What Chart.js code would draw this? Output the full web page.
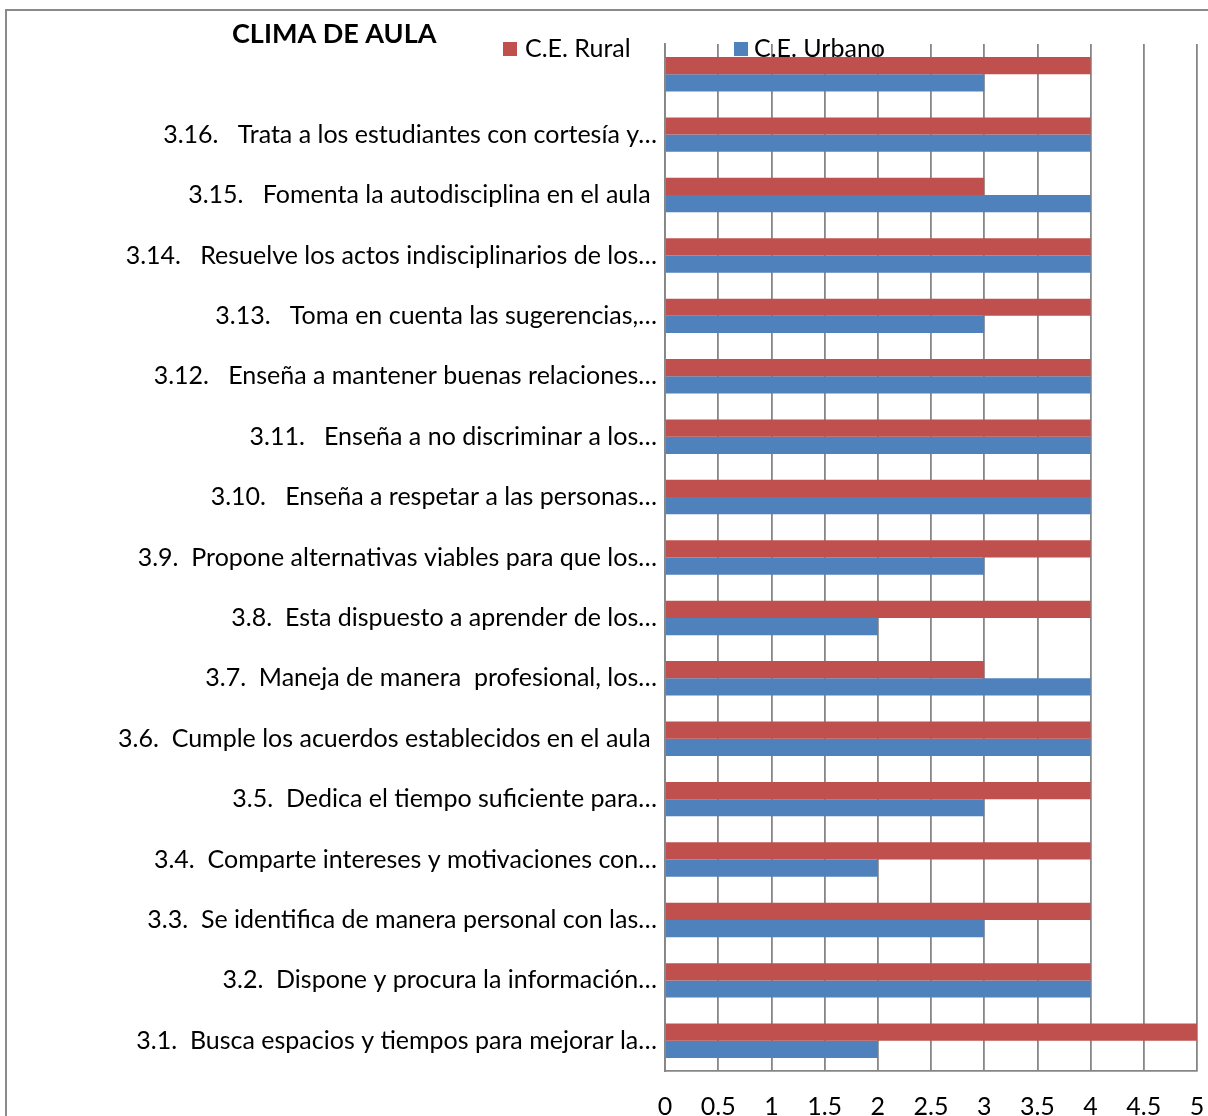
<!DOCTYPE html>
<html><head><meta charset="utf-8">
<script src="https://cdn.jsdelivr.net/npm/chart.js@4/dist/chart.umd.min.js"></script>
<style>html,body{margin:0;padding:0;background:#fff;overflow:hidden}</style>
</head>
<body>
<canvas id="c" width="1208" height="1116"></canvas>
<script>
const chartTitle = 'CLIMA DE AULA';
const categories = [
  '',
  '3.16.   Trata a los estudiantes con cortesía y…',
  '3.15.   Fomenta la autodisciplina en el aula ',
  '3.14.   Resuelve los actos indisciplinarios de los…',
  '3.13.   Toma en cuenta las sugerencias,…',
  '3.12.   Enseña a mantener buenas relaciones…',
  '3.11.   Enseña a no discriminar a los…',
  '3.10.   Enseña a respetar a las personas…',
  '3.9.  Propone alternativas viables para que los…',
  '3.8.  Esta dispuesto a aprender de los…',
  '3.7.  Maneja de manera  profesional, los…',
  '3.6.  Cumple los acuerdos establecidos en el aula ',
  '3.5.  Dedica el tiempo suficiente para…',
  '3.4.  Comparte intereses y motivaciones con…',
  '3.3.  Se identifica de manera personal con las…',
  '3.2.  Dispone y procura la información…',
  '3.1.  Busca espacios y tiempos para mejorar la…'
];
const seriesNames = ['C.E. Rural', 'C.E. Urbano'];
const rural  = [4, 4, 3, 4, 4, 4, 4, 4, 4, 4, 3, 4, 4, 4, 4, 4, 5];
const urbano = [3, 4, 4, 4, 3, 4, 4, 4, 3, 2, 4, 4, 3, 2, 3, 4, 2];
const xTickLabels = ['0','0.5','1','1.5','2','2.5','3','3.5','4','4.5','5'];

const RED = '#C0504D', BLUE = '#4F81BD', GRID = '#868686';
const FONT = 'Lato';

const overlay = {
  id: 'overlay',
  beforeDraw(chart) {
    const c = chart.ctx;
    c.save();
    c.fillStyle = '#fff';
    c.fillRect(0, 0, chart.width, chart.height);
    c.strokeStyle = '#8a8a8a';
    c.lineWidth = 2;
    c.strokeRect(6, 10, 1300, 1300);
    c.restore();
  },
  afterDraw(chart) {
    const c = chart.ctx;
    c.save();
    c.fillStyle = '#000';
    c.textBaseline = 'middle';
    c.textAlign = 'left';
    c.font = 'bold 27px ' + FONT;
    c.fillText(chartTitle, 232, 34);
    c.font = '25px ' + FONT;
    const items = [[503, 525], [734, 754]];
    chart.data.datasets.forEach((ds, i) => {
      c.fillStyle = ds.backgroundColor;
      c.fillRect(items[i][0], 42, 14, 14);
      c.fillStyle = '#000';
      c.fillText(ds.label, items[i][1], 49);
    });
    c.restore();
  }
};

new Chart(document.getElementById('c'), {
  type: 'bar',
  data: {
    labels: categories,
    datasets: [
      { label: seriesNames[0], data: rural, backgroundColor: RED },
      { label: seriesNames[1], data: urbano, backgroundColor: BLUE }
    ]
  },
  options: {
    indexAxis: 'y',
    responsive: false,
    animation: false,
    devicePixelRatio: 1,
    categoryPercentage: 0.57,
    barPercentage: 1,
    layout: { padding: { left: 0, right: 11, top: 44, bottom: 0 } },
    plugins: { legend: { display: false }, title: { display: false }, tooltip: { enabled: false } },
    scales: {
      x: {
        min: 0, max: 5,
        ticks: {
          stepSize: 0.5,
          color: '#000',
          font: { family: FONT, size: 25 },
          padding: 21,
          maxRotation: 0,
          autoSkip: false,
          callback: (v, i) => xTickLabels[i]
        },
        grid: { color: GRID, lineWidth: 1.8, drawTicks: false },
        border: { color: GRID, width: 1.8 },
        afterFit(s) { s.height = 45; s.paddingLeft = 0; s.paddingRight = 0; }
      },
      y: {
        ticks: {
          color: '#000',
          font: { family: FONT, size: 25 },
          padding: 8,
          autoSkip: false
        },
        grid: { display: false, drawTicks: false },
        border: { color: GRID, width: 1.8 },
        afterFit(s) { s.width = 665; s.paddingTop = 0; s.paddingBottom = 0; }
      }
    }
  },
  plugins: [overlay]
});
</script>
</body></html>
